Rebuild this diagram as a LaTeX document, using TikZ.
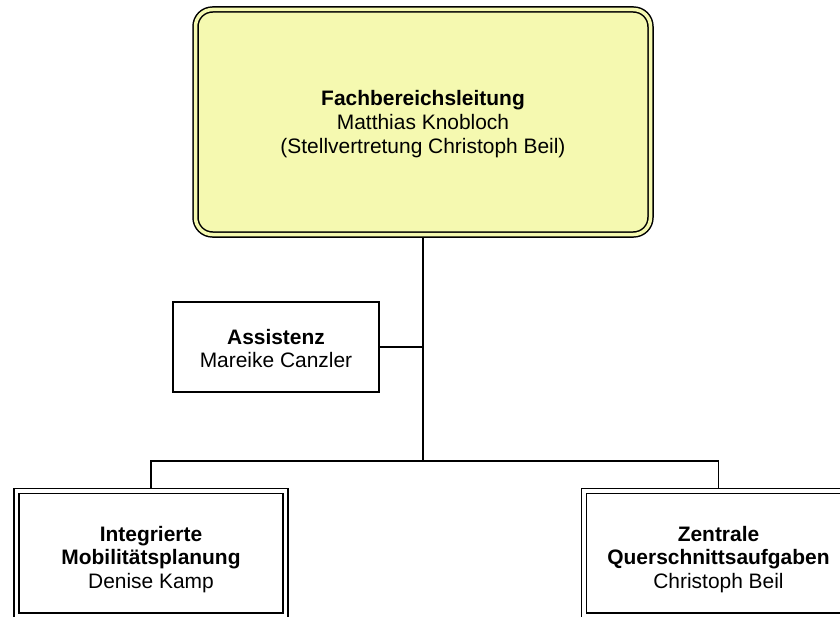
\documentclass[tikz,border=0pt]{standalone}
\usepackage{fontspec}
\setmainfont{Liberation Sans}
\usetikzlibrary{backgrounds}
\definecolor{headfill}{RGB}{245,249,176}
\newcommand{\upx}{0.75pt}
\begin{document}
\begin{tikzpicture}[x=0.75pt,y=-0.75pt,
  every node/.style={font=\fontsize{15.7pt}{17.7pt}\selectfont, align=center, inner sep=0pt},
  headbox/.style={draw=black, line width=1.5*\upx, double=headfill, double distance=3.5*\upx,
    fill=headfill, rounded corners=17*\upx, minimum width=455*\upx, minimum height=225*\upx},
  unitbox/.style={draw=black, line width=1.5*\upx, double=white, double distance=3.5*\upx,
    fill=white, minimum width=269*\upx, minimum height=124.5*\upx},
  staffbox/.style={draw=black, line width=1.5*\upx, fill=white,
    minimum width=206*\upx, minimum height=90*\upx},
  boxtext/.style={label={[name=#1, yshift=-5.5*\upx]center:{\box0}}},
  conn/.style={draw=black, line width=1.5*\upx}]
\useasboundingbox (0,0) rectangle (840,617);
\clip (0,0) rectangle (840,617);
\node[headbox] (top) at (423,122) {};
\node (toptext) at ([yshift=-2*\upx]top.center) {\textbf{Fachbereichsleitung}\\Matthias Knobloch\\(Stellvertretung Christoph Beil)};
\node[staffbox] (assist) at (276,347) {};
\node (assisttext) at ([yshift=-1.5*\upx]assist.center) {\textbf{Assistenz}\\Mareike Canzler};
\node[unitbox] (left) at (151,553.25) {};
\node (lefttext) at ([yshift=-6*\upx]left.center) {\textbf{Integrierte}\\\textbf{Mobilitätsplanung}\\Denise Kamp};
\node[unitbox] (right) at (718.5,553.25) {};
\node (righttext) at ([yshift=-6*\upx]right.center) {\textbf{Zentrale}\\\textbf{Querschnittsaufgaben}\\Christoph Beil};
\coordinate (j) at (423,461);
\begin{scope}[on background layer]
\draw[conn] (top.south) -- (j);
\draw[conn] (assist.east) -- (assist.east -| top.south);
\draw[conn] (left.north) |- (j) -| (right.north);
\end{scope}
\end{tikzpicture}
\end{document}
